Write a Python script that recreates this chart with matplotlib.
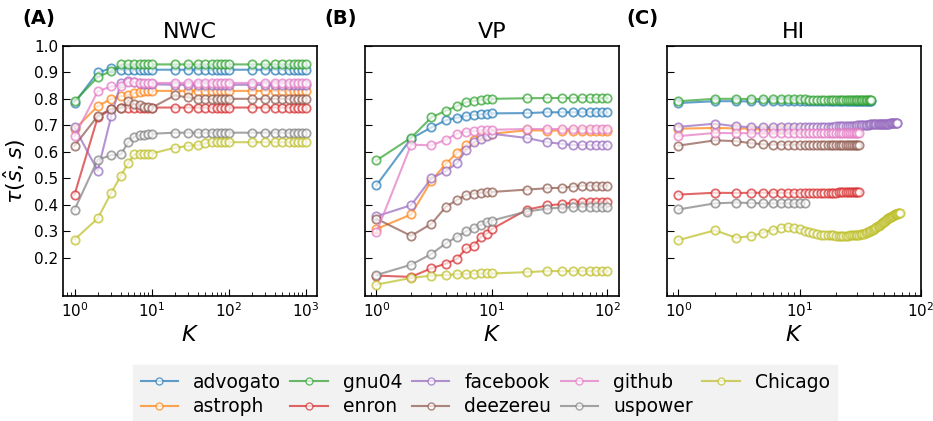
import matplotlib
matplotlib.use('Agg')
from matplotlib import pyplot as plt

names = ['advogato', 'astroph', 'gnu04', 'enron', 'facebook',
         'deezereu', 'github', 'uspower', 'Chicago']
colors = ['tab:blue', 'tab:orange', 'tab:green', 'tab:red', 'tab:purple',
          'tab:brown', 'tab:pink', 'tab:gray', 'tab:olive']

# (A) NWC
nwc_k = [1, 2, 3, 4, 5, 6, 7, 8, 9, 10,
         20, 30, 40, 50, 60, 70, 80, 90, 100,
         200, 300, 400, 500, 600, 700, 800, 900, 1000]
nwc = {
    'advogato': [0.785, 0.900, 0.915, 0.910, 0.910, 0.910, 0.910, 0.910, 0.910, 0.910,
                 0.910, 0.910, 0.910, 0.910, 0.910, 0.910, 0.910, 0.910, 0.910,
                 0.910, 0.910, 0.910, 0.910, 0.910, 0.910, 0.910, 0.910, 0.910],
    'gnu04': [0.790, 0.882, 0.905, 0.930, 0.930, 0.930, 0.930, 0.930, 0.930, 0.930,
              0.930, 0.930, 0.930, 0.930, 0.930, 0.930, 0.930, 0.930, 0.930,
              0.930, 0.930, 0.930, 0.930, 0.930, 0.930, 0.930, 0.930, 0.930],
    'facebook': [0.692, 0.528, 0.735, 0.860, 0.868, 0.865, 0.858, 0.856, 0.855, 0.855,
                 0.853, 0.853, 0.853, 0.853, 0.853, 0.853, 0.853, 0.853, 0.853,
                 0.853, 0.853, 0.853, 0.853, 0.853, 0.853, 0.853, 0.853, 0.853],
    'github': [0.658, 0.828, 0.847, 0.850, 0.862, 0.862, 0.860, 0.860, 0.860, 0.860,
               0.860, 0.860, 0.860, 0.860, 0.860, 0.860, 0.860, 0.860, 0.860,
               0.860, 0.860, 0.860, 0.860, 0.860, 0.860, 0.860, 0.860, 0.860],
    'astroph': [0.685, 0.772, 0.800, 0.810, 0.815, 0.822, 0.826, 0.828, 0.830, 0.830,
                0.830, 0.830, 0.830, 0.830, 0.830, 0.830, 0.830, 0.830, 0.830,
                0.830, 0.830, 0.830, 0.830, 0.830, 0.830, 0.830, 0.830, 0.830],
    'deezereu': [0.623, 0.735, 0.762, 0.765, 0.792, 0.780, 0.775, 0.770, 0.768, 0.766,
                 0.813, 0.805, 0.800, 0.800, 0.800, 0.800, 0.800, 0.800, 0.800,
                 0.800, 0.800, 0.800, 0.800, 0.800, 0.800, 0.800, 0.800, 0.800],
    'enron': [0.438, 0.730, 0.760, 0.767, 0.767, 0.767, 0.767, 0.767, 0.767, 0.767,
              0.767, 0.767, 0.767, 0.767, 0.767, 0.767, 0.767, 0.767, 0.767,
              0.767, 0.767, 0.767, 0.767, 0.767, 0.767, 0.767, 0.767, 0.767],
    'uspower': [0.381, 0.570, 0.587, 0.590, 0.637, 0.657, 0.662, 0.665, 0.667, 0.668,
                0.672, 0.672, 0.672, 0.672, 0.672, 0.672, 0.672, 0.672, 0.672,
                0.672, 0.672, 0.672, 0.672, 0.672, 0.672, 0.672, 0.672, 0.672],
    'Chicago': [0.268, 0.348, 0.445, 0.510, 0.558, 0.590, 0.593, 0.593, 0.593, 0.593,
                0.615, 0.622, 0.625, 0.632, 0.635, 0.636, 0.636, 0.636, 0.636,
                0.636, 0.636, 0.636, 0.636, 0.636, 0.636, 0.636, 0.636, 0.636],
}

# (B) VP
vp_k = [1, 2, 3, 4, 5, 6, 7, 8, 9, 10, 20, 30, 40, 50, 60, 70, 80, 90, 100]
vp = {
    'advogato': [0.473, 0.650, 0.692, 0.719, 0.729, 0.735, 0.739, 0.741, 0.744, 0.745,
                 0.746, 0.749, 0.749, 0.749, 0.749, 0.749, 0.749, 0.749, 0.749],
    'gnu04': [0.567, 0.653, 0.730, 0.755, 0.773, 0.787, 0.793, 0.797, 0.798, 0.800,
              0.802, 0.803, 0.803, 0.803, 0.803, 0.803, 0.803, 0.803, 0.803],
    'facebook': [0.356, 0.398, 0.500, 0.527, 0.557, 0.608, 0.636, 0.648, 0.660, 0.668,
                 0.652, 0.636, 0.630, 0.625, 0.625, 0.625, 0.625, 0.625, 0.625],
    'github': [0.295, 0.627, 0.624, 0.646, 0.668, 0.675, 0.678, 0.681, 0.683, 0.683,
               0.686, 0.686, 0.686, 0.686, 0.686, 0.686, 0.686, 0.686, 0.686],
    'astroph': [0.308, 0.363, 0.491, 0.555, 0.596, 0.627, 0.646, 0.658, 0.664, 0.668,
                0.681, 0.680, 0.680, 0.680, 0.680, 0.680, 0.680, 0.680, 0.680],
    'deezereu': [0.347, 0.282, 0.328, 0.392, 0.418, 0.437, 0.442, 0.445, 0.447, 0.448,
                 0.457, 0.462, 0.464, 0.468, 0.472, 0.472, 0.472, 0.472, 0.472],
    'enron': [0.132, 0.127, 0.160, 0.177, 0.195, 0.235, 0.245, 0.278, 0.290, 0.308,
              0.381, 0.397, 0.402, 0.407, 0.411, 0.411, 0.411, 0.411, 0.411],
    'uspower': [0.134, 0.173, 0.214, 0.254, 0.279, 0.300, 0.311, 0.323, 0.333, 0.340,
                0.374, 0.385, 0.389, 0.391, 0.391, 0.391, 0.391, 0.391, 0.391],
    'Chicago': [0.098, 0.123, 0.132, 0.134, 0.137, 0.138, 0.139, 0.140, 0.140, 0.140,
                0.145, 0.149, 0.149, 0.149, 0.149, 0.149, 0.149, 0.149, 0.149],
}

# (C) HI, K = 1, 2, ..., len(values)
hi = {
    'advogato': [0.784, 0.791, 0.791, 0.790, 0.790, 0.790, 0.791, 0.791, 0.791, 0.791,
                 0.791, 0.791, 0.792, 0.792, 0.792, 0.792, 0.792, 0.792, 0.792, 0.792,
                 0.792, 0.792, 0.792, 0.793, 0.793, 0.793, 0.793, 0.793, 0.793, 0.793,
                 0.793, 0.793, 0.793, 0.793, 0.793, 0.793, 0.793, 0.793, 0.793],
    'gnu04': [0.791, 0.800, 0.800, 0.799, 0.799, 0.798, 0.800, 0.799, 0.798, 0.798,
              0.798, 0.797, 0.797, 0.797, 0.797, 0.797, 0.797, 0.797, 0.797, 0.797,
              0.796, 0.796, 0.796, 0.796, 0.796, 0.796, 0.796, 0.796, 0.796, 0.796,
              0.796, 0.796, 0.796, 0.796, 0.796, 0.796, 0.796, 0.796, 0.796],
    'facebook': [0.694, 0.706, 0.696, 0.693, 0.692, 0.692, 0.692, 0.692, 0.692, 0.692,
                 0.693, 0.693, 0.693, 0.694, 0.694, 0.694, 0.695, 0.695, 0.695, 0.696,
                 0.696, 0.697, 0.697, 0.697, 0.698, 0.698, 0.699, 0.699, 0.699, 0.700,
                 0.700, 0.701, 0.701, 0.701, 0.702, 0.702, 0.702, 0.703, 0.703, 0.703,
                 0.704, 0.704, 0.704, 0.704, 0.705, 0.705, 0.705, 0.705, 0.705, 0.706,
                 0.706, 0.706, 0.706, 0.706, 0.706, 0.707, 0.707, 0.707, 0.707, 0.707,
                 0.707, 0.708, 0.708, 0.708],
    'github': [0.659, 0.671, 0.670, 0.670, 0.669, 0.669, 0.669, 0.669, 0.669, 0.669,
               0.669, 0.669, 0.669, 0.669, 0.669, 0.669, 0.669, 0.669, 0.669, 0.669,
               0.669, 0.669, 0.669, 0.669, 0.669, 0.669, 0.669, 0.669, 0.669, 0.669,
               0.669],
    'Chicago': [0.266, 0.303, 0.275, 0.281, 0.294, 0.306, 0.312, 0.315, 0.312, 0.308,
                0.302, 0.296, 0.292, 0.289, 0.287, 0.286, 0.285, 0.284, 0.284, 0.283,
                0.283, 0.283, 0.283, 0.283, 0.283, 0.284, 0.284, 0.285, 0.285, 0.286,
                0.287, 0.288, 0.289, 0.291, 0.293, 0.295, 0.297, 0.300, 0.303, 0.306,
                0.309, 0.312, 0.315, 0.318, 0.321, 0.324, 0.327, 0.330, 0.333, 0.336,
                0.339, 0.342, 0.345, 0.348, 0.351, 0.353, 0.355, 0.357, 0.359, 0.361,
                0.363, 0.364, 0.365, 0.366, 0.367, 0.368, 0.369],
    'astroph': [0.687, 0.690, 0.688, 0.687, 0.686, 0.686, 0.686, 0.686, 0.686, 0.686,
                0.686, 0.686, 0.686, 0.686, 0.686, 0.686, 0.686, 0.686, 0.686, 0.686,
                0.686, 0.686, 0.686, 0.686, 0.686, 0.686, 0.686, 0.686, 0.686, 0.686],
    'enron': [0.438, 0.445, 0.444, 0.445, 0.445, 0.445, 0.445, 0.445, 0.445, 0.445,
              0.445, 0.445, 0.445, 0.445, 0.445, 0.445, 0.445, 0.445, 0.445, 0.445,
              0.446, 0.446, 0.446, 0.446, 0.446, 0.446, 0.446, 0.446, 0.446, 0.446,
              0.446],
    'deezereu': [0.623, 0.643, 0.640, 0.632, 0.628, 0.627, 0.627, 0.627, 0.627, 0.627,
                 0.627, 0.627, 0.627, 0.627, 0.627, 0.627, 0.627, 0.627, 0.627, 0.627,
                 0.627, 0.627, 0.627, 0.627, 0.627, 0.627, 0.627, 0.627, 0.627, 0.627,
                 0.627],
    'uspower': [0.382, 0.405, 0.408, 0.406, 0.405, 0.405, 0.405, 0.405, 0.405, 0.405,
                0.405],
}

titles = ['NWC', 'VP', 'HI']
panel_tags = ['(A)', '(B)', '(C)']

fig, axes = plt.subplots(1, 3, figsize=(9.33, 4.21), dpi=100, sharey=True)
fig.subplots_adjust(left=0.0675, right=0.987, bottom=0.297, top=0.891, wspace=0.187)

line_style = dict(marker='o', markerfacecolor='white', markersize=6,
                  markeredgewidth=1.3, linewidth=1.5, alpha=0.7)

for name, c in zip(names, colors):
    axes[0].plot(nwc_k, nwc[name], color=c, label=name, **line_style)
    axes[1].plot(vp_k, vp[name], color=c, **line_style)
    k_hi = list(range(1, len(hi[name]) + 1))
    axes[2].plot(k_hi, hi[name], color=c, **line_style)

for ax, t in zip(axes, titles):
    ax.set_xscale('log')
    ax.set_title(t, fontsize=16)
    ax.set_xlabel('$K$', fontsize=16)
    ax.tick_params(which='both', direction='in', top=False, right=False, labelsize=11)
    ax.tick_params(which='major', length=5)
    ax.tick_params(which='minor', length=3)
    for s in ax.spines.values():
        s.set_linewidth(1.2)

axes[0].set_ylim(0.055, 1.0)
axes[0].set_yticks([0.2, 0.3, 0.4, 0.5, 0.6, 0.7, 0.8, 0.9, 1.0])
axes[0].set_ylabel(r'$\tau(\hat{s}, s)$', fontsize=16)
axes[2].set_xlim(0.8, 100)

for ax, tag in zip(axes, panel_tags):
    x0 = ax.get_position().x0
    fig.text(x0 - 0.043, 0.955, tag, fontsize=14, fontweight='bold', va='center')

# legend handles with smaller markers
handles = []
for name, c in zip(names, colors):
    h, = axes[0].plot([], [], color=c, marker='o', markerfacecolor='white',
                      markersize=5, linewidth=1.5, alpha=0.7)
    handles.append(h)
fig.legend(handles, names, ncol=5, loc='upper center', bbox_to_anchor=(0.52, 0.155),
           fontsize=13.5, frameon=True, facecolor='#f2f2f2', edgecolor='#f2f2f2',
           framealpha=1.0, columnspacing=0.5, handlelength=2.0, handletextpad=0.8,
           borderpad=0.4, labelspacing=0.3, fancybox=False)

fig.savefig('out.png', dpi=100)
